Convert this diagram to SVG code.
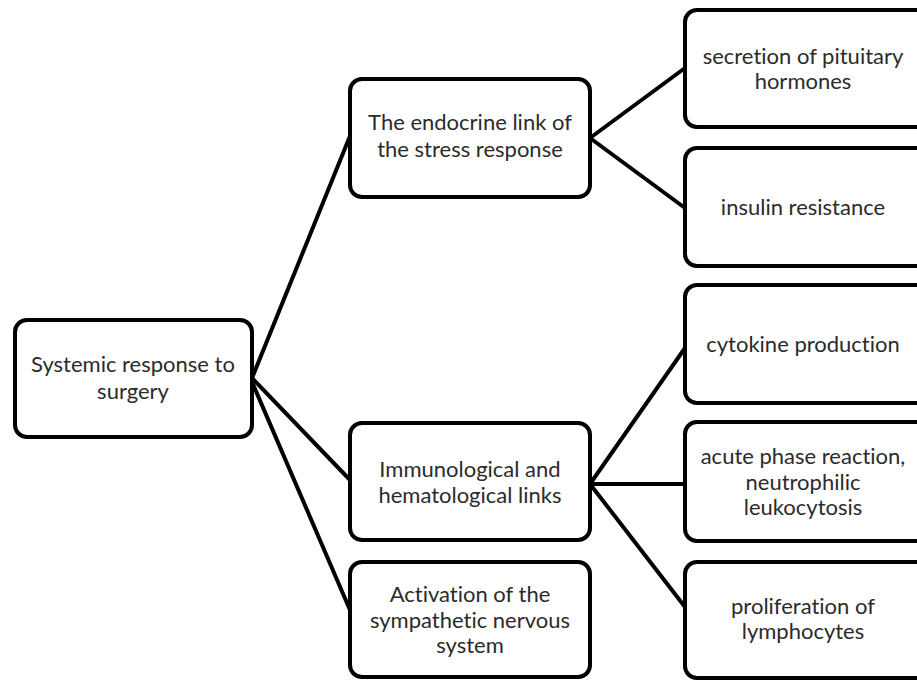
<svg xmlns="http://www.w3.org/2000/svg" width="917" height="681" viewBox="0 0 917 681">
<style>
.box{fill:#fff;stroke:#000;stroke-width:4}
.ln{stroke:#000;stroke-width:4;fill:none;stroke-linecap:round}
text{font-family:Lato,"Open Sans",sans-serif;font-size:22px;fill:#2b2b2b;text-anchor:middle;font-variant-ligatures:none}
</style>
<rect width="917" height="681" fill="#fff"/>
<g id="connectors">
<line class="ln" x1="252" y1="378" x2="350" y2="136"/>
<line class="ln" x1="252" y1="378" x2="350" y2="480"/>
<line class="ln" x1="252" y1="382" x2="350" y2="610"/>
<line class="ln" x1="590" y1="138" x2="685" y2="68"/>
<line class="ln" x1="590" y1="138" x2="685" y2="208"/>
<line class="ln" x1="590" y1="484" x2="685" y2="348"/>
<line class="ln" x1="590" y1="484" x2="685" y2="484"/>
<line class="ln" x1="590" y1="484" x2="685" y2="607"/>
</g>
<g id="root"><rect class="box" x="15" y="320" width="237" height="117" rx="12"/>
<text x="133" y="372">Systemic response to</text><text x="133" y="399">surgery</text></g>
<g id="endocrine"><rect class="box" x="350" y="79" width="240" height="118" rx="12"/>
<text x="470" y="130">The endocrine link of</text><text x="470" y="157">the stress response</text></g>
<g id="immuno"><rect class="box" x="350" y="423" width="240" height="117" rx="12"/>
<text x="470" y="477">Immunological and</text><text x="470" y="503">hematological links</text></g>
<g id="activation"><rect class="box" x="350" y="562" width="240" height="115" rx="12"/>
<text x="470" y="602">Activation of the</text><text x="470" y="628">sympathetic nervous</text><text x="470" y="653">system</text></g>
<g id="secretion"><rect class="box" x="685" y="10" width="245" height="117" rx="12"/>
<text x="803" y="64">secretion of pituitary</text><text x="803" y="89">hormones</text></g>
<g id="insulin"><rect class="box" x="685" y="148" width="245" height="118" rx="12"/>
<text x="803" y="215">insulin  resistance</text></g>
<g id="cytokine"><rect class="box" x="685" y="285" width="245" height="118" rx="12"/>
<text x="803" y="352">cytokine production</text></g>
<g id="acute"><rect class="box" x="685" y="422" width="245" height="119" rx="12"/>
<text x="803" y="464">acute phase reaction,</text><text x="803" y="490">neutrophilic</text><text x="803" y="515">leukocytosis</text></g>
<g id="prolif"><rect class="box" x="685" y="562" width="245" height="116" rx="12"/>
<text x="803" y="614">proliferation of</text><text x="803" y="639">lymphocytes</text></g>
</svg>
